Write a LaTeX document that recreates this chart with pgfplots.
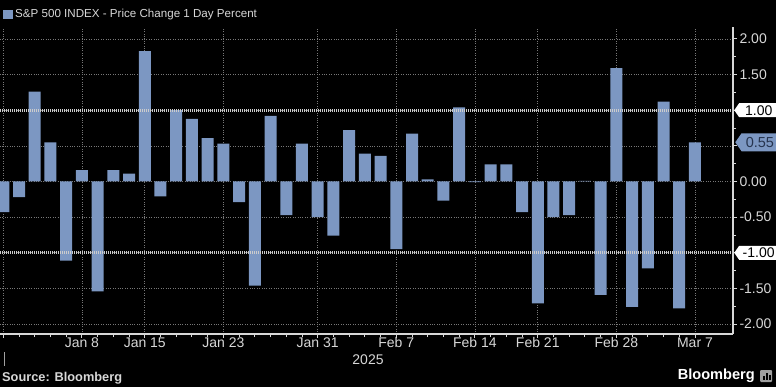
\documentclass[border=0pt]{standalone}
\usepackage{pgfplots}
\pgfplotsset{compat=1.18}
\usepackage{fontspec}
\setmainfont{Liberation Sans}
\usetikzlibrary{shapes.symbols}
\definecolor{barblue}{RGB}{124,151,194}
\definecolor{txt}{RGB}{215,215,215}
\definecolor{gridc}{RGB}{120,120,120}
\definecolor{refline}{RGB}{205,205,205}
\definecolor{darktxt}{RGB}{38,52,78}
\begin{document}
\begin{tikzpicture}
\fill[black] (0,0) rectangle (776pt,-387pt);
\useasboundingbox (0,0) rectangle (776pt,-387pt);
\begin{axis}[
  at={(0pt,-334pt)}, anchor=south west,
  scale only axis, width=733pt, height=307pt,
  xmin=-0.21, xmax=46.42, ymin=-2.139, ymax=2.167,
  axis x line*=bottom, axis y line*=right,
  axis line style={draw=txt, line width=1.1pt},
  tick align=outside,
  major tick length=4pt, minor tick length=3pt,
  tick style={draw=txt, line width=0.9pt},
  xtick={5,9,14,20,25,30,34,39,44},
  xticklabels={Jan 8,Jan 15,Jan 23,Jan 31,Feb 7,Feb 14,Feb 21,Feb 28,Mar 7},
  minor xtick={0,...,44},
  extra x ticks={0}, extra x tick labels={},
  extra x tick style={grid=major},
  ytick={-2,-1.5,-1,-0.5,0,0.5,1,1.5,2},
  yticklabels={-2.00,-1.50,,-0.50,0.00,,,1.50,2.00},
  minor y tick num=1,
  xmajorgrids, ymajorgrids,
  major grid style={dotted, draw=gridc, line width=0.6pt},
  tick label style={font=\fontsize{14}{16}\selectfont, text=txt},
  xticklabel style={yshift=4pt},
  yticklabel style={xshift=-1pt},
]
\addplot[ybar, bar width=12pt, fill=barblue, draw=none] coordinates {
(0,-0.43) (1,-0.22) (2,1.26) (3,0.55) (4,-1.11) (5,0.16) (6,-1.54) (7,0.16) (8,0.11) (9,1.83)
(10,-0.21) (11,1.00) (12,0.88) (13,0.61) (14,0.53) (15,-0.29) (16,-1.46) (17,0.92) (18,-0.47) (19,0.53)
(20,-0.50) (21,-0.76) (22,0.72) (23,0.39) (24,0.36) (25,-0.95) (26,0.67) (27,0.03) (28,-0.27) (29,1.04)
(30,-0.01) (31,0.24) (32,0.24) (33,-0.43) (34,-1.71) (35,-0.50) (36,-0.47) (37,0.01) (38,-1.59) (39,1.59)
(40,-1.76) (41,-1.22) (42,1.12) (43,-1.78) (44,0.55)
};
\draw[refline, line width=2.6pt, dash pattern=on 1.2pt off 0.8pt] (axis cs:-0.21,1) -- (axis cs:46.42,1);
\draw[refline, line width=2.6pt, dash pattern=on 1.2pt off 0.8pt] (axis cs:-0.21,-1) -- (axis cs:46.42,-1);
\coordinate (p1) at (axis cs:46.42,1);
\coordinate (m1) at (axis cs:46.42,-1);
\coordinate (last) at (axis cs:46.42,0.55);
\end{axis}
\node[signal, signal to=west, signal pointer angle=110, fill=white, text=black, minimum height=14pt, minimum width=44pt, inner sep=1pt, anchor=west, font=\fontsize{14}{16}\selectfont] at ([xshift=1pt]p1) {1.00};
\node[signal, signal to=west, signal pointer angle=110, fill=white, text=black, minimum height=14pt, minimum width=44pt, inner sep=1pt, anchor=west, font=\fontsize{14}{16}\selectfont] at ([xshift=1pt]m1) {-1.00};
\node[signal, signal to=west, signal pointer angle=110, fill=barblue, text=darktxt, minimum height=18pt, minimum width=43pt, inner sep=1pt, anchor=west, font=\fontsize{14.5}{16}\selectfont] at ([xshift=2pt]last) {0.55};
% legend
\fill[barblue] (3pt,-10pt) rectangle (13pt,-19pt);
\node[anchor=west, inner sep=0pt, text=txt, font=\fontsize{11.6}{13}\selectfont] at (15pt,-14.5pt) {S\&P 500 INDEX - Price Change 1 Day Percent};
% year
\node[text=txt, inner sep=0pt, font=\fontsize{14}{16}\selectfont] at (368pt,-360pt) {2025};
\draw[gridc!70!white, line width=0.8pt] (4pt,-352pt) -- (4pt,-366pt);
% source
\node[anchor=west, inner sep=0pt, text=txt, font=\bfseries\fontsize{12.8}{14}\selectfont] at (2pt,-378pt) {Source: Bloomberg};
\node[anchor=east, inner sep=0pt, text=white, font=\bfseries\fontsize{14.6}{16}\selectfont] at (755pt,-376pt) {Bloomberg};
\fill[gray!75!white, rounded corners=1pt] (760pt,-370pt) rectangle (772pt,-382pt);
\fill[black] (763pt,-380pt) rectangle (764.5pt,-376pt);
\fill[black] (766pt,-380pt) rectangle (767.5pt,-373pt);
\fill[black] (769pt,-380pt) rectangle (770.5pt,-375pt);
\end{tikzpicture}
\end{document}
